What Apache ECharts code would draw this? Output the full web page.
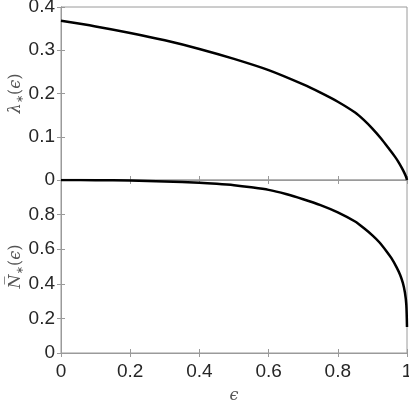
<!DOCTYPE html>
<html>
<head>
<meta charset="utf-8">
<script src="https://cdn.jsdelivr.net/npm/echarts@6/dist/echarts.min.js"></script>
<style>
  html, body { margin: 0; padding: 0; background: #fff; }
  #main { width: 409px; height: 402px; }
</style>
</head>
<body>
<div id="main"></div>
<script>
// values
var epsLambda = [0, 0.1, 0.2, 0.3, 0.4, 0.5, 0.6, 0.7, 0.75, 0.8, 0.85, 0.875, 0.9, 0.925, 0.95, 0.965, 0.975, 0.985, 0.992, 0.997, 1];
var lambdaVals = [0.368, 0.355, 0.340, 0.323, 0.303, 0.280, 0.254, 0.221, 0.202, 0.181, 0.156, 0.139, 0.119, 0.096, 0.070, 0.054, 0.042, 0.028, 0.017, 0.008, 0];

var epsN = [0, 0.1, 0.2, 0.3, 0.4, 0.45, 0.5, 0.55, 0.6, 0.65, 0.7, 0.75, 0.8, 0.85, 0.875, 0.9, 0.92, 0.94, 0.955, 0.97, 0.98, 0.988, 0.994, 0.998, 1];
var nVals = [1.0, 0.999, 0.997, 0.992, 0.984, 0.978, 0.970, 0.958, 0.943, 0.919, 0.889, 0.855, 0.813, 0.760, 0.722, 0.680, 0.640, 0.590, 0.548, 0.495, 0.452, 0.405, 0.350, 0.280, 0.150];

var xTicks = [0, 0.2, 0.4, 0.6, 0.8, 1];

function pairs(xs, ys) {
	return xs.map(function (x, i) { return [x, ys[i]]; });
}

var axisGray = '#9a9a9a';
var labelStyle = { color: '#262626', fontSize: 19, fontFamily: 'Liberation Sans' };
var nameStyle = {
	color: '#555',
	fontSize: 16,
	fontFamily: 'DejaVu Serif',
	rich: {
		a: { fontSize: 16, fontFamily: 'DejaVu Serif', fontStyle: 'italic', color: '#555' },
		p: { fontSize: 16, fontFamily: 'DejaVu Serif', color: '#555' },
		s: { fontSize: 10, fontFamily: 'DejaVu Sans', color: '#555', padding: [8, 0, 0, 0] }
	}
};

function plainAxis(extra) {
	var base = {
		type: 'value',
		min: 0,
		max: 1,
		interval: 0.2,
		axisLine: { show: true, lineStyle: { color: axisGray, width: 1 } },
		axisTick: { show: true, inside: true, length: 4, lineStyle: { color: axisGray } },
		axisLabel: { show: false },
		splitLine: { show: false }
	};
	return Object.assign(base, extra);
}

var chart = echarts.init(document.getElementById('main'), null, { renderer: 'canvas' });

chart.setOption({
	animation: false,
	backgroundColor: '#fff',
	grid: [
		{ left: 61, top: 7, width: 346, height: 173, show: true, borderColor: axisGray, borderWidth: 1, containLabel: false, outerBoundsMode: 'none' },
		{ left: 61, top: 180, width: 346, height: 173, show: true, borderColor: axisGray, borderWidth: 1, containLabel: false, outerBoundsMode: 'none' }
	],
	xAxis: [
		plainAxis({ gridIndex: 0, position: 'bottom' }),
		plainAxis({ gridIndex: 0, position: 'top' }),
		plainAxis({
			gridIndex: 1,
			position: 'bottom',
			axisLabel: { show: true, margin: 9, color: labelStyle.color, fontSize: labelStyle.fontSize, fontFamily: labelStyle.fontFamily,
				hideOverlap: false,
				formatter: function (v) { return xTicks.indexOf(v) >= 0 ? String(v) : ''; } },
			name: '{a|ϵ}',
			nameLocation: 'middle',
			nameGap: 35,
			nameMoveOverlap: false,
			nameTextStyle: nameStyle
		}),
		plainAxis({ gridIndex: 1, position: 'top' })
	],
	yAxis: [
		plainAxis({
			gridIndex: 0,
			position: 'left',
			max: 0.4,
			interval: 0.1,
			axisLabel: { show: true, margin: 6, color: labelStyle.color, fontSize: labelStyle.fontSize, fontFamily: labelStyle.fontFamily },
			name: '{a|λ}{s|∗}{p|(}{a|ϵ}{p|)}',
			nameLocation: 'middle',
			nameRotate: 90,
			nameGap: 36,
			nameMoveOverlap: false,
			nameTextStyle: nameStyle
		}),
		plainAxis({ gridIndex: 0, position: 'right', max: 0.4, interval: 0.1 }),
		plainAxis({
			gridIndex: 1,
			position: 'left',
			axisLabel: { show: true, margin: 6, color: labelStyle.color, fontSize: labelStyle.fontSize, fontFamily: labelStyle.fontFamily,
				formatter: function (v) { return v === 1 ? '' : String(v); } },
			name: '{a|N\u0305}{s|∗}{p|(}{a|ϵ}{p|)}',
			nameLocation: 'middle',
			nameRotate: 90,
			nameGap: 36,
			nameMoveOverlap: false,
			nameTextStyle: nameStyle
		}),
		plainAxis({ gridIndex: 1, position: 'right' })
	],
	series: [
		{
			name: 'lambda',
			type: 'line',
			xAxisIndex: 0,
			yAxisIndex: 0,
			data: pairs(epsLambda, lambdaVals),
			showSymbol: false,
			smooth: 0.3,
			lineStyle: { color: '#000', width: 2.5 }
		},
		{
			name: 'N',
			type: 'line',
			xAxisIndex: 2,
			yAxisIndex: 2,
			data: pairs(epsN, nVals),
			showSymbol: false,
			smooth: 0.3,
			lineStyle: { color: '#000', width: 2.5 }
		}
	]
});
</script>
</body>
</html>
